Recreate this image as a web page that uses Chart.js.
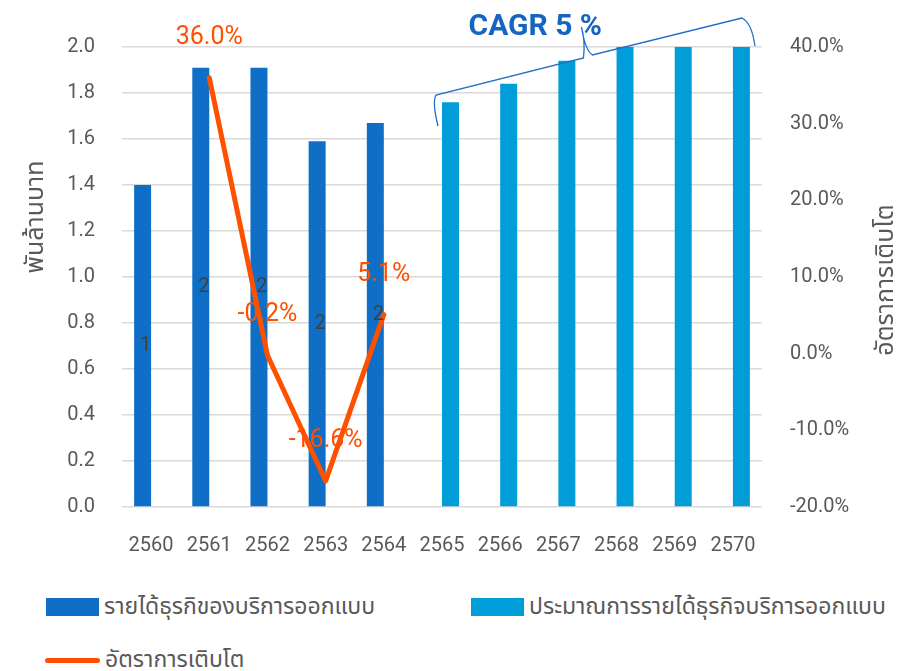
<!DOCTYPE html>
<html>
<head>
<meta charset="utf-8">
<script src="https://cdn.jsdelivr.net/npm/chart.js@4.4.1/dist/chart.umd.min.js"></script>
<style>
    html, body { margin: 0; padding: 0; background: #fff; }
    #wrap {
        position: relative; width: 902px; height: 671px;
        font-family: Roboto, "Noto Sans Thai", "Noto Sans", sans-serif; color: #595959;
    }
    #chartBox { position: absolute; left: 0; top: 0; width: 902px; height: 580px; }
    .legend-item { position: absolute; display: flex; align-items: center; font-size: 23px; white-space: nowrap; height: 20px; }
    .legend-item .swatch { width: 53px; height: 18px; margin-right: 5px; flex: none; }
    .legend-item .swatch.line { width: 55px; height: 5px; border-radius: 3px; }
</style>
</head>
<body>
<div id="wrap">
    <div id="chartBox"><canvas id="revenueChart"></canvas></div>
    <div id="legend"></div>
</div>
<script>
const years = ["2560", "2561", "2562", "2563", "2564", "2565", "2566", "2567", "2568", "2569", "2570"];
// พันล้านบาท
const revenueActual = [1.40, 1.91, 1.91, 1.59, 1.67, null, null, null, null, null, null];
const revenueForecast = [null, null, null, null, null, 1.76, 1.84, 1.94, 2.00, 2.00, 2.00];
// อัตราการเติบโต (%)
const growthRate = [null, 36.0, -0.2, -16.6, 5.1, null, null, null, null, null, null];

const DARK_BLUE = "#0F6FC6";
const LIGHT_BLUE = "#009DD9";
const ORANGE = "#FF5000";
const GREY_TEXT = "#595959";
const THAI_FONT = 'Roboto, "Noto Sans Thai", "Noto Sans", sans-serif';

// labels, CAGR note, axis titles
const overlayPlugin = {
    id: "overlays",
    afterDatasetsDraw(chart) {
        const ctx = chart.ctx;
        ctx.save();
        ctx.textAlign = "center";
        ctx.textBaseline = "middle";

        // bar value labels (only actual revenue)
        ctx.font = "20px Roboto, sans-serif";
        ctx.fillStyle = "#404040";
        chart.getDatasetMeta(0).data.forEach((bar, i) => {
            const v = revenueActual[i];
            if (v == null) return;
            ctx.fillText(v.toFixed(0), bar.x + 3, (bar.y + bar.base) / 2);
        });

        // growth labels
        ctx.font = "25px Roboto, sans-serif";
        ctx.fillStyle = ORANGE;
        chart.getDatasetMeta(2).data.forEach((pt, i) => {
            const v = growthRate[i];
            if (v == null) return;
            ctx.fillText(v.toFixed(1) + "%", pt.x, pt.y - 40);
        });
        ctx.restore();
    },
    afterDraw(chart) {
        const ctx = chart.ctx;
        const xs = chart.scales.x;
        const top = chart.chartArea.top;
        ctx.save();

        // axis titles, both read bottom-to-top
        ctx.fillStyle = GREY_TEXT;
        ctx.font = "25px " + THAI_FONT;
        ctx.textAlign = "center";
        ctx.textBaseline = "middle";
        ctx.save();
        ctx.translate(37, 217);
        ctx.rotate(-Math.PI / 2);
        ctx.fillText("พันล้านบาท", 0, 0);
        ctx.restore();
        ctx.save();
        ctx.translate(887, 280);
        ctx.rotate(-Math.PI / 2);
        ctx.fillText("อัตราการเติบโต", 0, 0);
        ctx.restore();

        // CAGR brace over the forecast bars
        const xa = xs.getPixelForValue(5) - 8;
        const xm = (xs.getPixelForValue(7) + xs.getPixelForValue(8)) / 2 - 4;
        const xb = xs.getPixelForValue(10) + 22;
        ctx.strokeStyle = "#1F6FC5";
        ctx.lineWidth = 1.3;
        ctx.beginPath();
        ctx.moveTo(xa + 4, top + 79);
        ctx.quadraticCurveTo(xa - 2, top + 55, xa + 2, top + 48);
        ctx.lineTo(xm, top + 11);
        ctx.quadraticCurveTo(xm + 2, top - 6, xm - 2, top - 20);
        ctx.moveTo(xm - 2, top - 20);
        ctx.quadraticCurveTo(xm + 2, top + 4, xm + 9, top + 8);
        ctx.lineTo(xb - 13, top - 29);
        ctx.quadraticCurveTo(xb - 3, top - 24, xb, top - 1);
        ctx.stroke();

        ctx.fillStyle = "#1565C0";
        ctx.font = "bold 30px Roboto, sans-serif";
        ctx.fillText("CAGR 5 %", (xs.getPixelForValue(6) + xs.getPixelForValue(7)) / 2 + 6, top - 20);
        ctx.restore();
    }
};

function buildLegend(chart) {
    const legend = document.getElementById("legend");
    legend.innerHTML = "";
    const spots = [
        { left: 46, top: 597 },
        { left: 471, top: 597 },
        { left: 45, top: 650 }
    ];
    chart.data.datasets.forEach((ds, i) => {
        const item = document.createElement("div");
        item.className = "legend-item";
        item.style.left = spots[i].left + "px";
        item.style.top = spots[i].top + "px";
        const sw = document.createElement("span");
        sw.className = ds.type === "line" ? "swatch line" : "swatch";
        sw.style.background = ds.type === "line" ? ds.borderColor : ds.backgroundColor;
        const label = document.createElement("span");
        label.textContent = ds.label;
        item.appendChild(sw);
        item.appendChild(label);
        legend.appendChild(item);
    });
}

const ctx = document.getElementById("revenueChart").getContext("2d");
const chart = new Chart(ctx, {
    data: {
        labels: years,
        datasets: [
            {
                type: "bar",
                label: "รายได้ธุรกิของบริการออกแบบ",
                data: revenueActual,
                backgroundColor: DARK_BLUE,
                categoryPercentage: 0.584,
                barPercentage: 1.0,
                yAxisID: "y",
                order: 2
            },
            {
                type: "bar",
                label: "ประมาณการรายได้ธุรกิจบริการออกแบบ",
                data: revenueForecast,
                backgroundColor: LIGHT_BLUE,
                categoryPercentage: 0.584,
                barPercentage: 1.0,
                yAxisID: "y",
                order: 2
            },
            {
                type: "line",
                label: "อัตราการเติบโต",
                data: growthRate,
                borderColor: ORANGE,
                backgroundColor: ORANGE,
                borderWidth: 5,
                borderCapStyle: "round",
                borderJoinStyle: "round",
                pointRadius: 0,
                tension: 0,
                yAxisID: "y1",
                order: 1
            }
        ]
    },
    options: {
        responsive: true,
        maintainAspectRatio: false,
        animation: false,
        layout: { padding: { top: 47, left: 0, right: 0, bottom: 0 } },
        plugins: {
            legend: { display: false },
            tooltip: { enabled: false }
        },
        scales: {
            x: {
                grid: { display: false, drawTicks: false },
                border: { display: false },
                ticks: { color: GREY_TEXT, font: { family: "Roboto", size: 20 }, padding: 27 },
                afterFit: (scale) => { scale.height = 73; }
            },
            y: {
                position: "left",
                min: 0,
                max: 2,
                grid: { color: "#D9D9D9", lineWidth: 1.5, drawTicks: false },
                border: { display: false },
                ticks: {
                    stepSize: 0.2,
                    color: GREY_TEXT,
                    font: { family: "Roboto", size: 20 },
                    padding: 27,
                    callback: (v) => v.toFixed(1)
                },
                afterFit: (scale) => { scale.width = 122; }
            },
            y1: {
                position: "right",
                min: -20,
                max: 40,
                grid: { display: false, drawTicks: false },
                border: { display: false },
                ticks: {
                    stepSize: 10,
                    color: GREY_TEXT,
                    font: { family: "Roboto", size: 20 },
                    padding: 28,
                    callback: (v) => v.toFixed(1) + "%"
                },
                afterFit: (scale) => { scale.width = 140; }
            }
        }
    },
    plugins: [overlayPlugin]
});

buildLegend(chart);
</script>
</body>
</html>
